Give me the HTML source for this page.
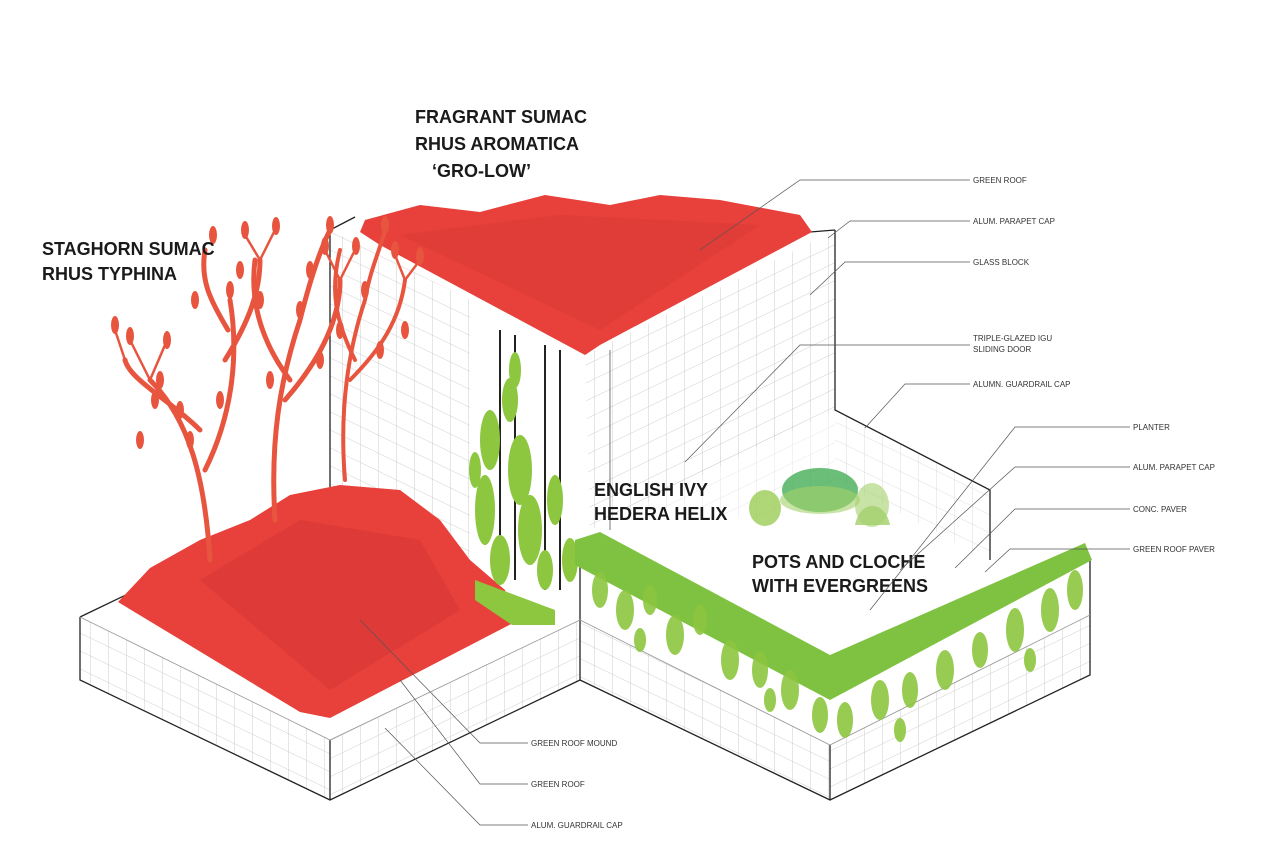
<!DOCTYPE html>
<html><head><meta charset="utf-8"><style>
html,body{margin:0;padding:0;background:#fff;}
svg{display:block}
.big{font-family:"Liberation Sans",sans-serif;font-weight:bold;font-size:18px;fill:#1a1a1a}
.sm{font-family:"Liberation Sans",sans-serif;font-size:8px;fill:#333}
.ln{stroke:#555;stroke-width:0.7;fill:none}
.ol{stroke:#222;stroke-width:1.3;fill:none}
</style></head><body>
<svg width="1280" height="857" viewBox="0 0 1280 857" xmlns="http://www.w3.org/2000/svg">
<defs>
<pattern id="gL" width="18" height="18" patternUnits="userSpaceOnUse" patternTransform="skewY(25.8)">
<path d="M0 0H18M0 0V18" stroke="#bbb" stroke-width="0.7" fill="none"/></pattern>
<pattern id="gR" width="18" height="18" patternUnits="userSpaceOnUse" patternTransform="skewY(-25.8)">
<path d="M0 0H18M0 0V18" stroke="#bbb" stroke-width="0.7" fill="none"/></pattern>
</defs>

<polygon points="80,617 330,740 330,800 80,680" fill="url(#gL)"/>
<polygon points="330,740 580,620 580,680 330,800" fill="url(#gR)"/>
<polygon points="580,620 830,745 830,800 580,680" fill="url(#gL)"/>
<polygon points="830,745 1090,615 1090,675 830,800" fill="url(#gR)"/>
<polygon points="330,230 470,300 470,590 330,497" fill="url(#gL)"/>
<polygon points="585,355 835,230 835,410 610,520 590,530" fill="url(#gR)"/>
<polygon points="835,410 990,490 990,560 835,480" fill="url(#gL)" opacity="0.7"/>
<polygon points="600,500 835,410 835,480 760,520" fill="url(#gR)" opacity="0.5"/>

<path class="ol" d="M80,617 L330,497 L330,230 L355,217 M80,617 L80,680 L330,800 L580,680 L830,800 L1090,675 L1090,560 M330,740 L330,800 M830,745 L830,800 M580,540 L580,680 M835,230 L835,410 L990,490 L990,560 M810,232 L835,230"/>
<path d="M610,350 L610,530" stroke="#555" stroke-width="0.8"/>
<path d="M80,617 L330,740 L580,620 L830,745 L1090,615" stroke="#999" stroke-width="0.8" fill="none"/>

<polygon points="365,220 420,205 480,212 545,195 610,205 660,195 720,200 800,215 812,232 600,345 585,355 380,245 360,232" fill="#e8403a"/>
<polygon points="400,235 560,215 760,225 600,330" fill="#d93a36" opacity="0.5"/>
<polygon points="118,602 150,568 200,540 250,520 290,495 340,485 400,490 440,520 470,560 505,590 515,622 330,718 300,712" fill="#e8403a"/>
<polygon points="200,580 300,520 420,540 460,610 330,690" fill="#d33535" opacity="0.5"/>

<g stroke="#e8553f" fill="none" stroke-linecap="round">
<path d="M210,560 C205,480 190,420 150,380 M205,470 C230,420 240,360 230,300 M200,430 C170,400 130,380 125,360 M225,360 C250,320 260,290 260,260 M228,330 C210,300 200,280 205,250" stroke-width="5"/>
<path d="M275,520 C270,440 280,380 300,320 M285,400 C320,360 340,320 340,280 M290,380 C260,340 250,300 255,260 M300,320 C310,280 320,250 330,230" stroke-width="5"/>
<path d="M345,480 C340,420 345,360 365,300 M350,380 C380,350 400,320 405,280 M355,360 C335,320 330,290 340,250 M365,300 C370,270 380,250 385,230" stroke-width="4"/>
<path d="M150,380 L130,340 M150,380 L165,345 M260,260 L245,235 M260,260 L275,230 M340,280 L325,250 M340,280 L355,250 M405,280 L395,255 M405,280 L420,260 M125,360 L115,330" stroke-width="2.5"/>
</g>
<g fill="#e8553f">
<ellipse cx="130" cy="336" rx="4" ry="9"/><ellipse cx="167" cy="340" rx="4" ry="9"/><ellipse cx="115" cy="325" rx="4" ry="9"/>
<ellipse cx="245" cy="230" rx="4" ry="9"/><ellipse cx="276" cy="226" rx="4" ry="9"/><ellipse cx="213" cy="235" rx="4" ry="9"/>
<ellipse cx="325" cy="246" rx="4" ry="9"/><ellipse cx="356" cy="246" rx="4" ry="9"/><ellipse cx="395" cy="250" rx="4" ry="9"/>
<ellipse cx="420" cy="256" rx="4" ry="9"/><ellipse cx="385" cy="225" rx="4" ry="9"/><ellipse cx="330" cy="225" rx="4" ry="9"/>
<ellipse cx="180" cy="410" rx="4" ry="9"/><ellipse cx="155" cy="400" rx="4" ry="9"/><ellipse cx="230" cy="290" rx="4" ry="9"/>
<ellipse cx="300" cy="310" rx="4" ry="9"/><ellipse cx="260" cy="300" rx="4" ry="9"/><ellipse cx="365" cy="290" rx="4" ry="9"/>
<ellipse cx="340" cy="330" rx="4" ry="9"/><ellipse cx="240" cy="270" rx="4" ry="9"/><ellipse cx="195" cy="300" rx="4" ry="9"/>
<ellipse cx="405" cy="330" rx="4" ry="9"/><ellipse cx="140" cy="440" rx="4" ry="9"/><ellipse cx="310" cy="270" rx="4" ry="9"/>
<ellipse cx="160" cy="380" rx="4" ry="9"/><ellipse cx="190" cy="440" rx="4" ry="9"/><ellipse cx="220" cy="400" rx="4" ry="9"/>
<ellipse cx="320" cy="360" rx="4" ry="9"/><ellipse cx="380" cy="350" rx="4" ry="9"/><ellipse cx="270" cy="380" rx="4" ry="9"/>
</g>

<g stroke="#222" stroke-width="2"><path d="M500,330 V580 M515,335 V580 M545,345 V590 M560,350 V590"/></g>

<polygon points="475,580 555,610 555,625 512,625 475,600" fill="#8dc63f"/>
<g fill="#8dc63f">
<ellipse cx="490" cy="440" rx="10" ry="30"/><ellipse cx="510" cy="400" rx="8" ry="22"/><ellipse cx="520" cy="470" rx="12" ry="35"/>
<ellipse cx="485" cy="510" rx="10" ry="35"/><ellipse cx="530" cy="530" rx="12" ry="35"/><ellipse cx="555" cy="500" rx="8" ry="25"/>
<ellipse cx="515" cy="370" rx="6" ry="18"/><ellipse cx="570" cy="560" rx="8" ry="22"/><ellipse cx="500" cy="560" rx="10" ry="25"/>
<ellipse cx="545" cy="570" rx="8" ry="20"/><ellipse cx="475" cy="470" rx="6" ry="18"/>
</g>
<polygon points="575,540 600,532 830,655 1085,543 1092,560 830,700 575,565" fill="#7fc241"/>
<g fill="#8dc63f" opacity="0.9">
<ellipse cx="600" cy="590" rx="8" ry="18"/><ellipse cx="625" cy="610" rx="9" ry="20"/><ellipse cx="650" cy="600" rx="7" ry="15"/>
<ellipse cx="675" cy="635" rx="9" ry="20"/><ellipse cx="700" cy="620" rx="7" ry="15"/><ellipse cx="730" cy="660" rx="9" ry="20"/>
<ellipse cx="760" cy="670" rx="8" ry="18"/><ellipse cx="790" cy="690" rx="9" ry="20"/><ellipse cx="820" cy="715" rx="8" ry="18"/>
<ellipse cx="845" cy="720" rx="8" ry="18"/><ellipse cx="880" cy="700" rx="9" ry="20"/><ellipse cx="910" cy="690" rx="8" ry="18"/>
<ellipse cx="945" cy="670" rx="9" ry="20"/><ellipse cx="980" cy="650" rx="8" ry="18"/><ellipse cx="1015" cy="630" rx="9" ry="22"/>
<ellipse cx="1050" cy="610" rx="9" ry="22"/><ellipse cx="1075" cy="590" rx="8" ry="20"/><ellipse cx="640" cy="640" rx="6" ry="12"/>
<ellipse cx="770" cy="700" rx="6" ry="12"/><ellipse cx="900" cy="730" rx="6" ry="12"/><ellipse cx="1030" cy="660" rx="6" ry="12"/>
</g>
<ellipse cx="820" cy="490" rx="38" ry="22" fill="#3aa84a" opacity="0.75"/>
<ellipse cx="820" cy="500" rx="40" ry="14" fill="#a3d06b" opacity="0.6"/>
<ellipse cx="765" cy="508" rx="16" ry="18" fill="#8dc63f" opacity="0.7"/>
<path d="M855,525 A18,25 0 0 1 890,525 Z" fill="#a3d06b" opacity="0.8"/>
<ellipse cx="872" cy="505" rx="17" ry="22" fill="#a3d06b" opacity="0.6"/>

<text class="big" x="415" y="123">FRAGRANT SUMAC</text>
<text class="big" x="415" y="150">RHUS AROMATICA</text>
<text class="big" x="432" y="177">‘GRO-LOW’</text>
<text class="big" x="42" y="255">STAGHORN SUMAC</text>
<text class="big" x="42" y="280">RHUS TYPHINA</text>
<text class="big" x="594" y="496">ENGLISH IVY</text>
<text class="big" x="594" y="520">HEDERA HELIX</text>
<text class="big" x="752" y="568">POTS AND CLOCHE</text>
<text class="big" x="752" y="592">WITH EVERGREENS</text>

<g class="sm">
<text x="973" y="183">GREEN ROOF</text>
<text x="973" y="224">ALUM. PARAPET CAP</text>
<text x="973" y="265">GLASS BLOCK</text>
<text x="973" y="341">TRIPLE-GLAZED IGU</text>
<text x="973" y="352">SLIDING DOOR</text>
<text x="973" y="387">ALUMN. GUARDRAIL CAP</text>
<text x="1133" y="430">PLANTER</text>
<text x="1133" y="470">ALUM. PARAPET CAP</text>
<text x="1133" y="512">CONC. PAVER</text>
<text x="1133" y="552">GREEN ROOF PAVER</text>
<text x="531" y="746">GREEN ROOF MOUND</text>
<text x="531" y="787">GREEN ROOF</text>
<text x="531" y="828">ALUM. GUARDRAIL CAP</text>
</g>
<g class="ln">
<path d="M970,180 H800 L700,250"/>
<path d="M970,221 H850 L828,238"/>
<path d="M970,262 H845 L810,295"/>
<path d="M970,345 H800 L685,462"/>
<path d="M970,384 H905 L865,428"/>
<path d="M1130,427 H1015 L870,610"/>
<path d="M1130,467 H1015 L900,570"/>
<path d="M1130,509 H1015 L955,568"/>
<path d="M1130,549 H1010 L985,572"/>
<path d="M528,743 H480 L360,620"/>
<path d="M528,784 H480 L400,680"/>
<path d="M528,825 H480 L385,728"/>
</g>
</svg>
</body></html>
